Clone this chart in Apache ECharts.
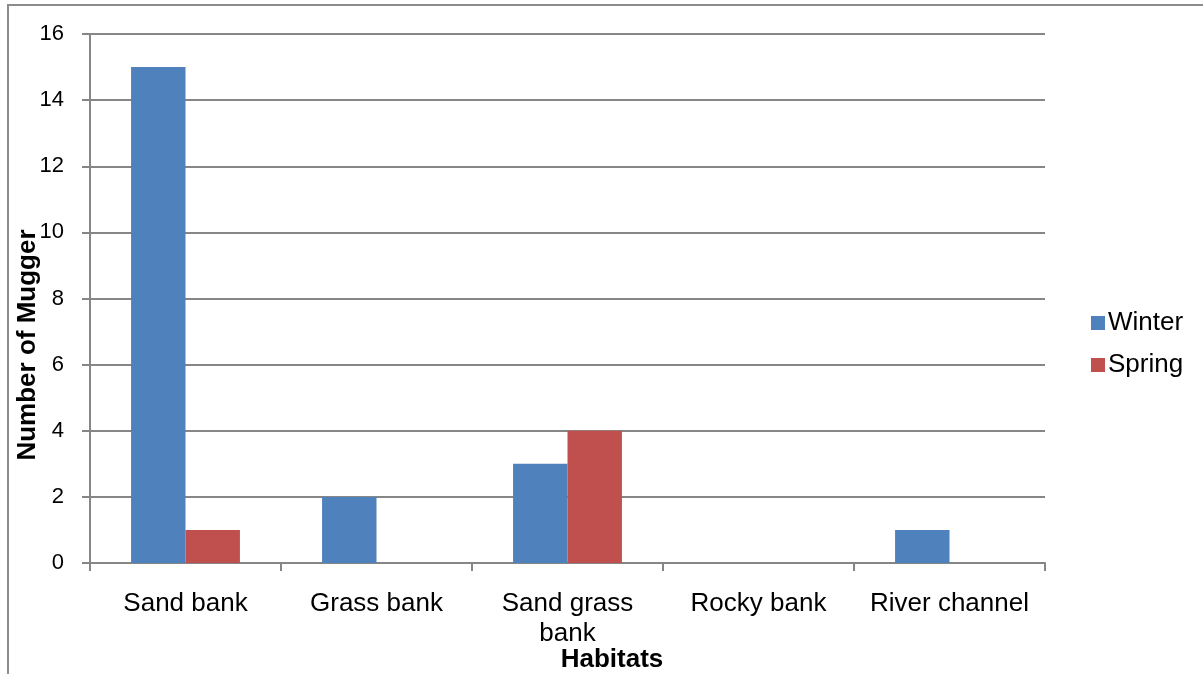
<!DOCTYPE html>
<html>
<head>
<meta charset="utf-8">
<script src="https://cdn.jsdelivr.net/npm/echarts@6/dist/echarts.min.js"></script>
<style>
  html, body { margin: 0; padding: 0; background: #fff; }
  #chart { width: 1203px; height: 674px; }
</style>
</head>
<body>
<div id="chart"></div>
<script>
// Mugger counts per habitat, by season
const habitats = ['Sand bank', 'Grass bank', 'Sand grass\nbank', 'Rocky bank', 'River channel'];
const winter = [15, 2, 3, 0, 1];
const spring = [1, 0, 4, 0, 0];
const yTicks = { min: 0, max: 16, interval: 2 };

const chart = echarts.init(document.getElementById('chart'), null, { renderer: 'canvas' });
const FONT = '"Liberation Sans", Arial, sans-serif';
const GRID_COLOR = '#868686';

chart.setOption({
  animation: false,
  backgroundColor: '#ffffff',
  graphic: [
    {
      type: 'rect',
      shape: { x: 8, y: 5, width: 1300, height: 800 },
      style: { fill: 'none', stroke: '#8c8c8c', lineWidth: 2 },
      silent: true
    },
    {
      // vertical axis title
      type: 'text',
      x: 28, y: 345,
      rotation: Math.PI / 2,
      style: {
        text: 'Number of Mugger',
        fontFamily: FONT, fontSize: 26, fontWeight: 'bold', fill: '#000',
        align: 'center', verticalAlign: 'middle'
      },
      silent: true
    },
    {
      // horizontal axis title
      type: 'text',
      x: 612, y: 660,
      style: {
        text: 'Habitats',
        fontFamily: FONT, fontSize: 26, fontWeight: 'bold', fill: '#000',
        align: 'center', verticalAlign: 'middle'
      },
      silent: true
    }
  ],
  grid: { left: 90, right: 158, top: 34, bottom: 111, containLabel: false, outerBoundsMode: 'none' },
  legend: {
    orient: 'vertical',
    left: 1086,
    top: 305,
    itemWidth: 14,
    itemHeight: 14,
    itemGap: 16,
    icon: 'rect',
    textStyle: { fontFamily: FONT, fontSize: 26, color: '#000', padding: [0, 0, 0, -2] },
    data: ['Winter', 'Spring']
  },
  xAxis: {
    type: 'category',
    data: habitats,
    axisLine: { lineStyle: { color: GRID_COLOR, width: 2 } },
    axisTick: { show: true, length: 8, inside: false, lineStyle: { color: GRID_COLOR, width: 2 } },
    axisLabel: { fontFamily: FONT, fontSize: 26, color: '#000', margin: 26, lineHeight: 30, interval: 0 }
  },
  yAxis: {
    type: 'value',
    min: yTicks.min,
    max: yTicks.max,
    interval: yTicks.interval,
    axisLine: { show: true, lineStyle: { color: GRID_COLOR, width: 2 } },
    axisTick: { show: true, length: 8, lineStyle: { color: GRID_COLOR, width: 2 } },
    axisLabel: { fontFamily: FONT, fontSize: 22, color: '#000', margin: 26 },
    splitLine: { show: true, lineStyle: { color: GRID_COLOR, width: 2 } }
  },
  series: [
    {
      name: 'Winter',
      type: 'bar',
      data: winter,
      barGap: '0%',
      barCategoryGap: '43%',
      itemStyle: { color: '#4f81bd' }
    },
    {
      name: 'Spring',
      type: 'bar',
      data: spring,
      barGap: '0%',
      barCategoryGap: '43%',
      itemStyle: { color: '#c0504d' }
    }
  ]
});
</script>
</body>
</html>
